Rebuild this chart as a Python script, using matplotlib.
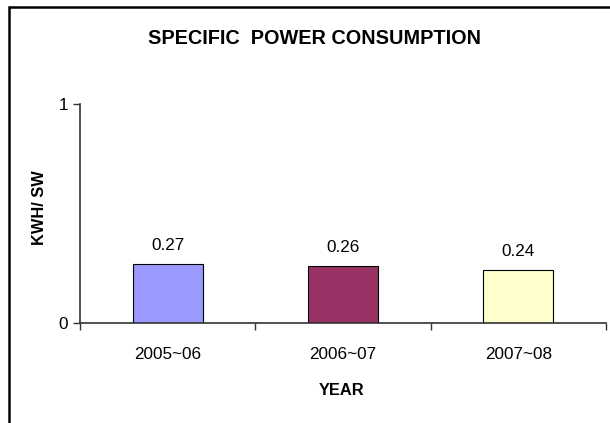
import matplotlib
matplotlib.use("Agg")
import matplotlib.pyplot as plt
from matplotlib.patches import Rectangle

plt.rcParams['font.family'] = ['Liberation Sans', 'DejaVu Sans']

years = ["2005~06", "2006~07", "2007~08"]
consumption = [0.27, 0.26, 0.24]
bar_colors = ["#9999FF", "#993366", "#FFFFCC"]

fig = plt.figure(figsize=(6.10, 4.23), dpi=100)
ax = fig.add_axes([80 / 610, 1 - 323 / 423, 526 / 610, 219 / 423])

# frame around the chart area (runs off the right and bottom edges)
fig.patches.append(Rectangle((9 / 610, -0.05), 1.2, 1 - 7 / 423 + 0.05,
                             transform=fig.transFigure, fill=False,
                             edgecolor="black", linewidth=1.8))

pos = [i + 0.5 for i in range(len(years))]
ax.bar(pos, consumption, width=0.40, color=bar_colors,
       edgecolor="black", linewidth=0.8)
for x, v in zip(pos, consumption):
    ax.text(x, v + 0.05, f"{v:.2f}", ha="center", va="bottom", fontsize=12.3)

ax.set_xlim(0, len(years))
ax.set_ylim(0, 1)
ax.set_yticks([0, 1])
ax.set_yticklabels(["0", "1"], fontsize=12.3)
ax.set_xticks(range(len(years) + 1))
ax.set_xticklabels([])
ax.set_xticks(pos, minor=True)
ax.set_xticklabels(years, minor=True, fontsize=12.3)
ax.tick_params(axis="x", which="minor", length=0, pad=17)
ax.tick_params(axis="both", which="major", direction="out", length=5,
               width=1, color="#333333")
for side in ["top", "right"]:
    ax.spines[side].set_visible(False)
for side in ["left", "bottom"]:
    ax.spines[side].set_color("#333333")
    ax.spines[side].set_linewidth(1.2)

ax.set_xlabel("YEAR", fontsize=11.8, fontweight="bold", va="center")
ax.xaxis.set_label_coords((341.5 - 80) / 526, (323 - 390.5) / 219)
ax.set_ylabel("KWH/ SW", fontsize=11.8, fontweight="bold", va="center")
ax.yaxis.set_label_coords((39 - 80) / 526, (323 - 208) / 219)
fig.text(314 / 610, 1 - 38 / 423, "SPECIFIC  POWER CONSUMPTION",
         ha="center", va="center", fontsize=14.3, fontweight="bold")

fig.savefig("out.png", dpi=100)
